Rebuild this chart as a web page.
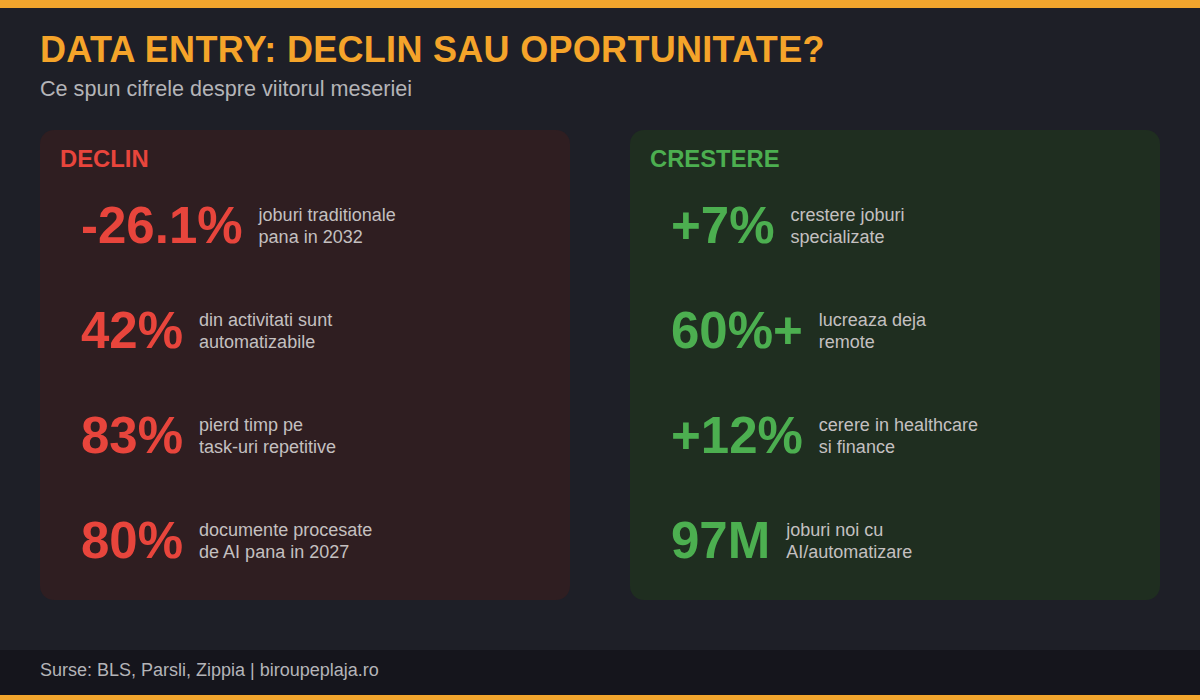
<!DOCTYPE html>
<html><head><meta charset="utf-8">
<script src="https://cdn.jsdelivr.net/npm/chart.js@4.4.0/dist/chart.umd.min.js"></script>
<style>
html,body{margin:0;padding:0;width:1200px;height:700px;overflow:hidden;background:#1e1f27;font-family:"Liberation Sans",Arial,sans-serif;}
#top{position:absolute;left:0;top:0;width:1200px;height:8px;background:#f2a52d}
#bot{position:absolute;left:0;top:695px;width:1200px;height:5px;background:#f2a52d}
#title{position:absolute;left:40px;top:29px;font-size:36px;font-weight:bold;color:#f5a42a;letter-spacing:0.3px}
#sub{position:absolute;left:40px;top:76px;font-size:21.6px;color:#b4b4b8}
.panel{position:absolute;top:130px;width:530px;height:470px;border-radius:14px}
.panel h2{position:absolute;left:20px;top:15px;margin:0;font-size:23.8px;font-weight:bold}
.item{position:absolute;left:41px;display:flex;align-items:center;height:60px}
.num{font-size:51px;font-weight:bold;line-height:60px}
.desc{margin-left:16px;font-size:18px;line-height:22px;color:#c4c0c0}
#foot{position:absolute;left:0;top:650px;width:1200px;height:45px;background:#15151c}
#foot span{position:absolute;left:40px;top:10px;font-size:18px;color:#b4b4b8}
</style></head><body>
<div id="top"></div>
<div id="title"></div><div id="sub"></div>
<div class="panel" id="p0" style="left:40px;background:#2f1e21"></div>
<div class="panel" id="p1" style="left:630px;background:#1f2e20"></div>
<div id="foot"><span id="src"></span></div>
<div id="bot"></div>
<script>
const titleText="DATA ENTRY: DECLIN SAU OPORTUNITATE?";
const subtitleText="Ce spun cifrele despre viitorul meseriei";
const panelNames=["DECLIN","CRESTERE"];
const panelColors=["#e8453c","#4caf50"];
const declinValues=["-26.1%","42%","83%","80%"];
const declinLabels=[["joburi traditionale","pana in 2032"],["din activitati sunt","automatizabile"],["pierd timp pe","task-uri repetitive"],["documente procesate","de AI pana in 2027"]];
const crestereValues=["+7%","60%+","+12%","97M"];
const crestereLabels=[["crestere joburi","specializate"],["lucreaza deja","remote"],["cerere in healthcare","si finance"],["joburi noi cu","AI/automatizare"]];
const sourceText="Surse: BLS, Parsli, Zippia | biroupeplaja.ro";
document.getElementById('title').textContent=titleText;
document.getElementById('sub').textContent=subtitleText;
document.getElementById('src').textContent=sourceText;
const vals=[declinValues,crestereValues],labs=[declinLabels,crestereLabels];
const tops=[66,171,276,381];
for(let p=0;p<2;p++){
  const el=document.getElementById('p'+p);
  const h=document.createElement('h2');h.textContent=panelNames[p];h.style.color=panelColors[p];el.appendChild(h);
  vals[p].forEach((v,i)=>{
    const it=document.createElement('div');it.className='item';it.style.top=tops[i]+'px';
    const n=document.createElement('div');n.className='num';n.style.color=panelColors[p];n.textContent=v;
    const d=document.createElement('div');d.className='desc';d.innerHTML=labs[p][i].map(s=>s.replace(/&/g,'&amp;')).join('<br>');
    it.appendChild(n);it.appendChild(d);el.appendChild(it);
  });
}
</script>
</body></html>
